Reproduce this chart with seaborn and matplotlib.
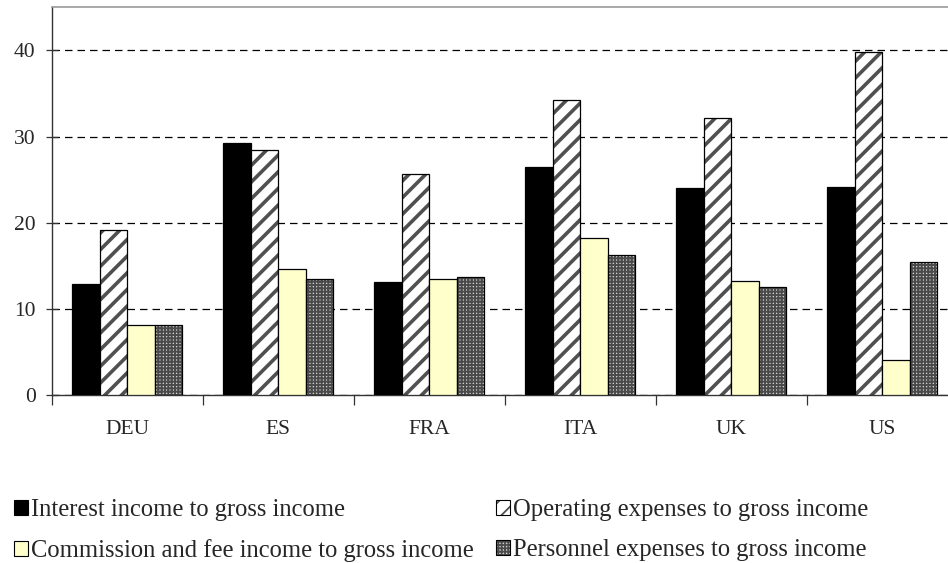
import pandas as pd
import matplotlib.pyplot as plt
import matplotlib.patches as mpatches
from matplotlib.colors import to_rgba
import seaborn as sns

countries = ["DEU", "ES", "FRA", "ITA", "UK", "US"]
interest = [12.9, 29.3, 13.1, 26.5, 24.0, 24.1]
operating = [19.1, 28.4, 25.6, 34.2, 32.2, 39.8]
commission = [8.1, 14.6, 13.5, 18.2, 13.2, 4.1]
personnel = [8.1, 13.5, 13.7, 16.2, 12.5, 15.4]
series = ["Interest income to gross income",
          "Operating expenses to gross income",
          "Commission and fee income to gross income",
          "Personnel expenses to gross income"]

df = pd.DataFrame({
    "country": countries * 4,
    "series": [s for s in series for _ in countries],
    "value": interest + operating + commission + personnel,
})

sns.set_theme(style="white")
plt.rcParams["font.family"] = ["Liberation Serif", "DejaVu Serif"]
plt.rcParams["hatch.linewidth"] = 1.3

# face, hatch, hatch colour, hatch width per series
styles = [
    ("black", None, "black", 1.0),
    ("white", "//", "#505050", 2.6),
    ("#ffffcc", None, "black", 1.0),
    ("#cfcfcf", "+++++", "#4a4a4a", 1.4),
]


def style_patch(p, face, hatch, hcol, hlw):
    p.set_facecolor(face)
    p.set_edgecolor("black")
    if hatch:
        p.set_hatch(hatch)
        p._hatch_color = to_rgba(hcol)
        if hasattr(p, "_hatch_linewidth"):
            p._hatch_linewidth = hlw


fig = plt.figure(figsize=(9.48, 5.63), dpi=100)
ax = fig.add_axes([51.7 / 948, 168 / 563, 906 / 948, 387.7 / 563])

sns.barplot(data=df, x="country", y="value", hue="series", hue_order=series,
            order=countries, width=0.728, gap=0, ax=ax, legend=False,
            edgecolor="black", linewidth=0.9, zorder=3)

for cont, st in zip(ax.containers, styles):
    for p in cont:
        style_patch(p, *st)

ax.set_ylim(0, 45)
ax.set_xlim(-0.5, 5.5)
ax.set_yticks([0, 10, 20, 30, 40])
ax.yaxis.grid(True, color="black", linestyle=(0, (6, 4)), linewidth=0.9, zorder=0)
ax.set_axisbelow(True)

ax.set_xlabel("")
ax.set_ylabel("")
ax.set_xticks(range(len(countries)), countries)
ax.set_xticks([i + 0.5 for i in range(-1, len(countries))], minor=True)
ax.tick_params(axis="x", which="major", length=0, pad=18, labelsize=15.5)
ax.tick_params(axis="x", which="minor", length=7, width=0.9, color="#333333", direction="out", bottom=True)
ax.tick_params(axis="y", length=9, width=0.9, color="#333333", direction="inout", left=True,
               pad=7, labelsize=15.5)

for side in ["left", "bottom"]:
    ax.spines[side].set_color("#333333")
    ax.spines[side].set_linewidth(1.0)
ax.spines["top"].set_color("#999999")
ax.spines["top"].set_linewidth(1.2)
ax.spines["right"].set_visible(False)

handles = []
for st in styles:
    h = mpatches.Patch(linewidth=0.8)
    style_patch(h, *st)
    handles.append(h)
order = [0, 2, 1, 3]
fig.legend([handles[i] for i in order], [series[i] for i in order],
           loc="upper left", bbox_to_anchor=(14 / 948, 1 - 499 / 563), ncol=2,
           frameon=False, fontsize=17.7, handlelength=0.55, handleheight=0.55,
           handletextpad=0.15, columnspacing=0.9, labelspacing=0.75, borderpad=0,
           borderaxespad=0)

fig.savefig("out.png", dpi=100)
